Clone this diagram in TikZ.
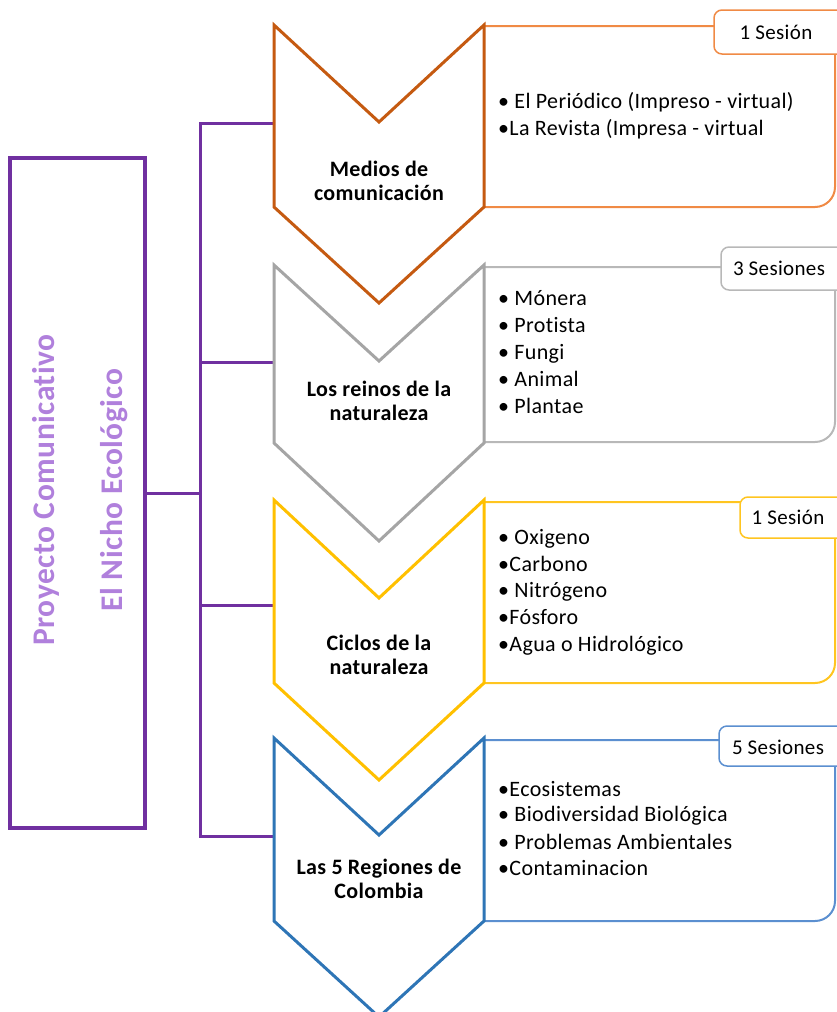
\documentclass[tikz,border=0pt]{standalone}
\usepackage{fontspec}
\setmainfont{Carlito}[Ligatures=NoCommon,LetterSpace=1.6]
\definecolor{purp}{HTML}{7030A0}
\definecolor{lpurp}{HTML}{B080DC}
\definecolor{orgA}{HTML}{C55A11}
\definecolor{orgB}{HTML}{F08A45}
\definecolor{gryA}{HTML}{A5A5A5}
\definecolor{gryB}{HTML}{B8B8B8}
\definecolor{ylwA}{HTML}{FFC000}
\definecolor{ylwB}{HTML}{FFC520}
\definecolor{bluA}{HTML}{2E75B6}
\definecolor{bluB}{HTML}{5B8FD0}
\begin{document}
\begin{tikzpicture}[x=1pt,y=-1pt,
  conn/.style={draw=purp,line width=3pt},
  chev/.style={line width=3pt,line join=miter,fill=white},
  cbox/.style={line width=2pt},
  tabbox/.style={line width=1.5pt,rounded corners=8pt,fill=white},
  lbl/.style={align=center,font=\bfseries\fontsize{22}{24}\selectfont,text=black},
  item/.style={anchor=base west,inner sep=0pt,font=\fontsize{22}{27}\selectfont,text=black},
  tabtxt/.style={font=\fontsize{21}{24}\selectfont,text=black,inner sep=0pt}]
\useasboundingbox (0,0) rectangle (837,1012);
\clip (0,0) rectangle (837,1012);

% root box
\node[draw=purp,line width=4pt,minimum width=135pt,minimum height=670pt,inner sep=0pt] (root) at (77.5,493) {};
\node[rotate=90,align=center,text=lpurp,font=\bfseries\fontsize{31.5}{68}\selectfont] (title) at (80,490) {Proyecto Comunicativo\\El Nicho Ecológico};

% connectors
\coordinate (t0) at (200,493);
\coordinate (t1) at (200,123);
\coordinate (t2) at (200,362);
\coordinate (t3) at (200,605);
\coordinate (t4) at (200,836);
\coordinate (c1) at (274,123);
\coordinate (c2) at (274,362);
\coordinate (c3) at (274,605);
\coordinate (c4) at (274,836);
\draw[conn] (root.east) -- (t0);
\draw[conn,line cap=rect] (t1) -- (t4);
\draw[conn] (t1) -- (c1);
\draw[conn] (t2) -- (c2);
\draw[conn] (t3) -- (c3);
\draw[conn] (t4) -- (c4);

% content boxes (drawn before tabs)
\draw[cbox,draw=orgB] (484,26) -- (835,26) [rounded corners=20pt] -- (835,207) -- (484,207);
\draw[cbox,draw=gryB] (484,267) -- (835,267) [rounded corners=20pt] -- (835,442) -- (484,442);
\draw[cbox,draw=ylwB] (484,502) -- (835,502) [rounded corners=20pt] -- (835,683) -- (484,683);
\draw[cbox,draw=bluB] (484,740) -- (835,740) [rounded corners=20pt] -- (835,921) -- (484,921);

% chevrons
\draw[chev,draw=orgA] (274,25) -- (379,122) -- (484,25) -- (484,207) -- (379,303) -- (274,207) -- cycle;
\draw[chev,draw=gryA] (274,265) -- (379,361) -- (484,265) -- (484,443) -- (379,541) -- (274,443) -- cycle;
\draw[chev,draw=ylwA] (274,500) -- (379,598) -- (484,500) -- (484,683) -- (379,780) -- (274,683) -- cycle;
\draw[chev,draw=bluA] (274,738) -- (379,835) -- (484,738) -- (484,921) -- (379,1017) -- (274,921) -- cycle;

% chevron labels
\node[lbl] (l1) at (379,181) {Medios de\\comunicación};
\node[lbl] (l2) at (379,401) {Los reinos de la\\naturaleza};
\node[lbl] (l3) at (379,655) {Ciclos de la\\naturaleza};
\node[lbl] (l4) at (379,879) {Las 5 Regiones de\\Colombia};

% tabs
\draw[tabbox,draw=orgB] (714,10) rectangle (850,54);
\node[tabtxt] (s1) at (776,32) {1 Sesión};
\draw[tabbox,draw=gryB] (721,247) rectangle (850,290);
\node[tabtxt] (s2) at (779,268) {3 Sesiones};
\draw[tabbox,draw=ylwB] (740,497) rectangle (850,538);
\node[tabtxt] (s3) at (788,517) {1 Sesión};
\draw[tabbox,draw=bluB] (719,726) rectangle (850,766);
\node[tabtxt] (s4) at (778,747) {5 Sesiones};

% items
\node[item] (a1) at (498,108) {• El Periódico (Impreso - virtual)};
\node[item] (a2) at (498,135) {•La Revista (Impresa - virtual};

\node[item] (b1) at (498,305) {• Mónera};
\node[item] (b2) at (498,332) {• Protista};
\node[item] (b3) at (498,359) {• Fungi};
\node[item] (b4) at (498,386) {• Animal};
\node[item] (b5) at (498,413) {• Plantae};

\node[item] (y1) at (498,544) {• Oxigeno};
\node[item] (y2) at (498,571) {•Carbono};
\node[item] (y3) at (498,597) {• Nitrógeno};
\node[item] (y4) at (498,624) {•Fósforo};
\node[item] (y5) at (498,651) {•Agua o Hidrológico};

\node[item] (z1) at (498,796) {•Ecosistemas};
\node[item] (z2) at (498,821) {• Biodiversidad Biológica};
\node[item] (z3) at (498,849) {• Problemas Ambientales};
\node[item] (z4) at (498,875) {•Contaminacion};
\end{tikzpicture}
\end{document}
